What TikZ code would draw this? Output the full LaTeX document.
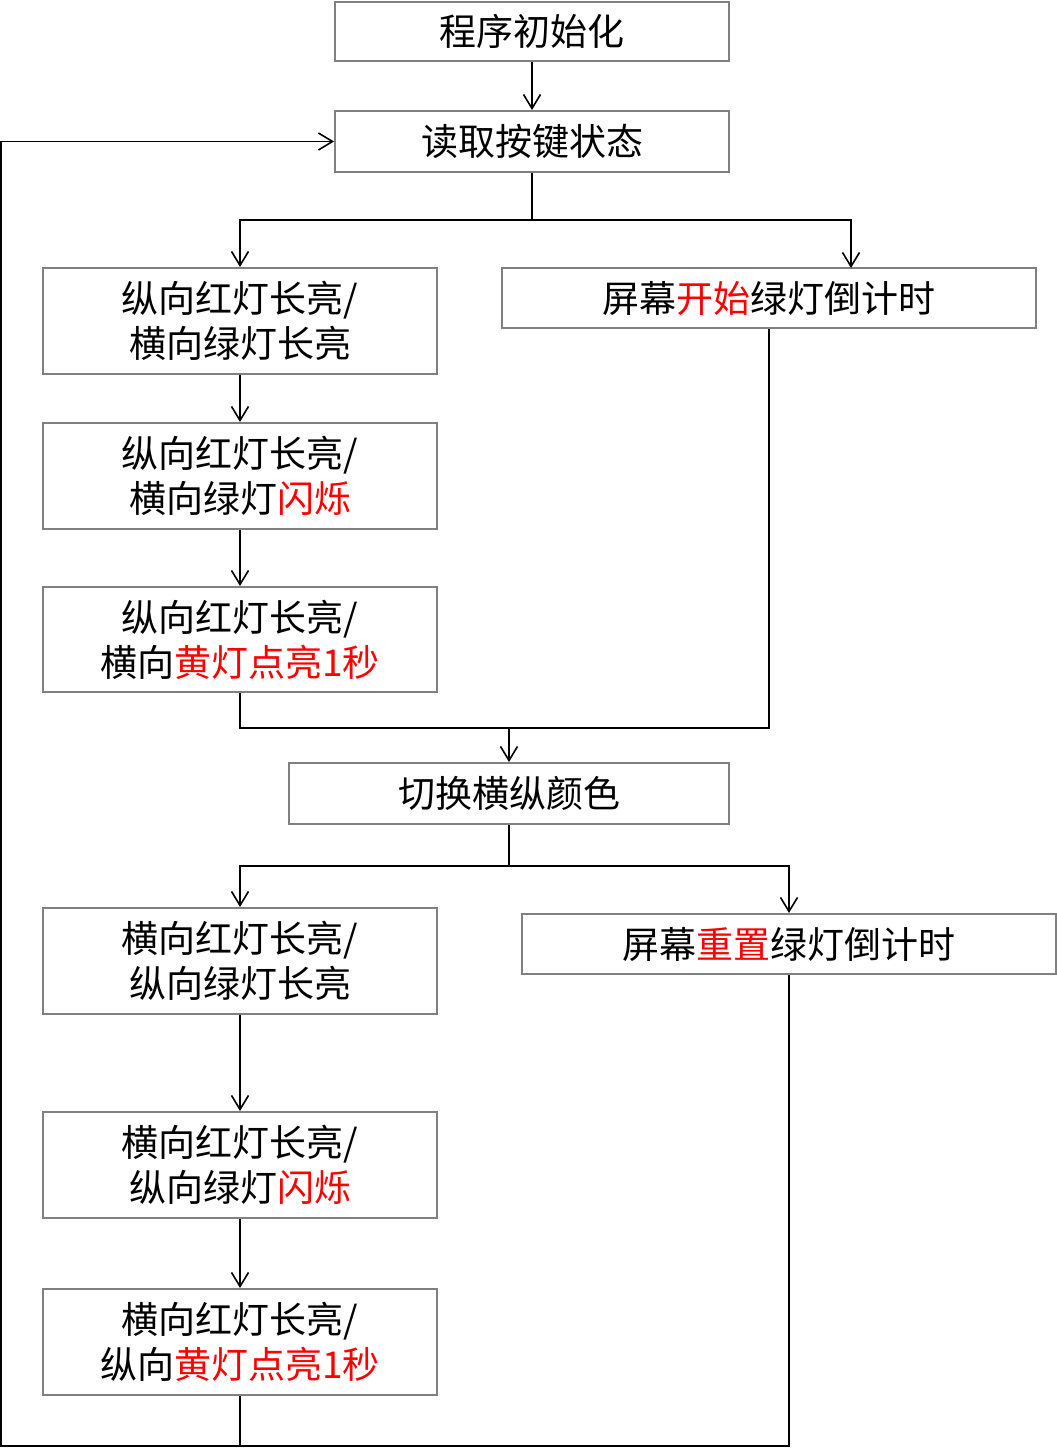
\documentclass[tikz,border=0pt]{standalone}
\usepackage{fontspec}
\setmainfont{Noto Sans CJK SC}
\usetikzlibrary{arrows.meta}
\definecolor{boxgray}{HTML}{808080}
\definecolor{hired}{HTML}{FF0000}
\tikzset{
  box/.style={draw=boxgray, line width=2pt, inner sep=0pt, align=center,
    font=\fontsize{37}{45}\selectfont},
  conn/.style={line width=1.6pt, draw=black},
  arr/.style={conn, -{Straight Barb[length=14pt,width=17pt,line width=1.6pt]}}
}
\newcommand{\hl}[1]{\textcolor{hired}{#1}}
\begin{document}
\begin{tikzpicture}[x=1pt,y=-1pt]
\useasboundingbox (0,0) rectangle (1057,1449);
\node[box, minimum width=394pt, minimum height=59pt] (init) at (532,31.5) {程序初始化};
\node[box, minimum width=394pt, minimum height=61pt] (read) at (532,141.5) {读取按键状态};
\node[box, minimum width=394pt, minimum height=106pt] (A1) at (240,321) {纵向红灯长亮/\\横向绿灯长亮};
\node[box, minimum width=534pt, minimum height=60pt] (R1) at (769,298) {屏幕\hl{开始}绿灯倒计时};
\node[box, minimum width=394pt, minimum height=106pt] (A2) at (240,476) {纵向红灯长亮/\\横向绿灯\hl{闪烁}};
\node[box, minimum width=394pt, minimum height=105pt] (A3) at (240,639.5) {纵向红灯长亮/\\横向\hl{黄灯点亮1秒}};
\node[box, minimum width=440pt, minimum height=61pt] (SW) at (509,793.5) {切换横纵颜色};
\node[box, minimum width=394pt, minimum height=106pt] (B1) at (240,961) {横向红灯长亮/\\纵向绿灯长亮};
\node[box, minimum width=534pt, minimum height=60pt] (R2) at (789,944) {屏幕\hl{重置}绿灯倒计时};
\node[box, minimum width=394pt, minimum height=106pt] (B2) at (240,1165) {横向红灯长亮/\\纵向绿灯\hl{闪烁}};
\node[box, minimum width=394pt, minimum height=106pt] (B3) at (240,1342) {横向红灯长亮/\\纵向\hl{黄灯点亮1秒}};

\coordinate (j1) at (532,220);
\coordinate (r1in) at (851,268);
\coordinate (j2) at (509,728);
\coordinate (j3) at (509,866);
\coordinate (bl) at (1,1446);

\draw[arr] (init.south) -- (read.north);
\draw[conn] (read.south) -- (j1);
\draw[arr] (j1) -| (A1.north);
\draw[arr] (j1) -| (r1in);
\draw[arr] (A1.south) -- (A2.north);
\draw[arr] (A2.south) -- (A3.north);
\draw[conn] (A3.south) |- (R1.south |- j2) -- (R1.south);
\draw[arr] (j2) -- (SW.north);
\draw[conn] (SW.south) -- (j3);
\draw[arr] (j3) -| (B1.north);
\draw[arr] (j3) -| (R2.north);
\draw[arr] (B1.south) -- (B2.north);
\draw[arr] (B2.south) -- (B3.north);
\draw[conn] (B3.south) -- (B3.south |- bl);
\draw[arr] (R2.south) |- (bl) |- (read.west);
\end{tikzpicture}
\end{document}
